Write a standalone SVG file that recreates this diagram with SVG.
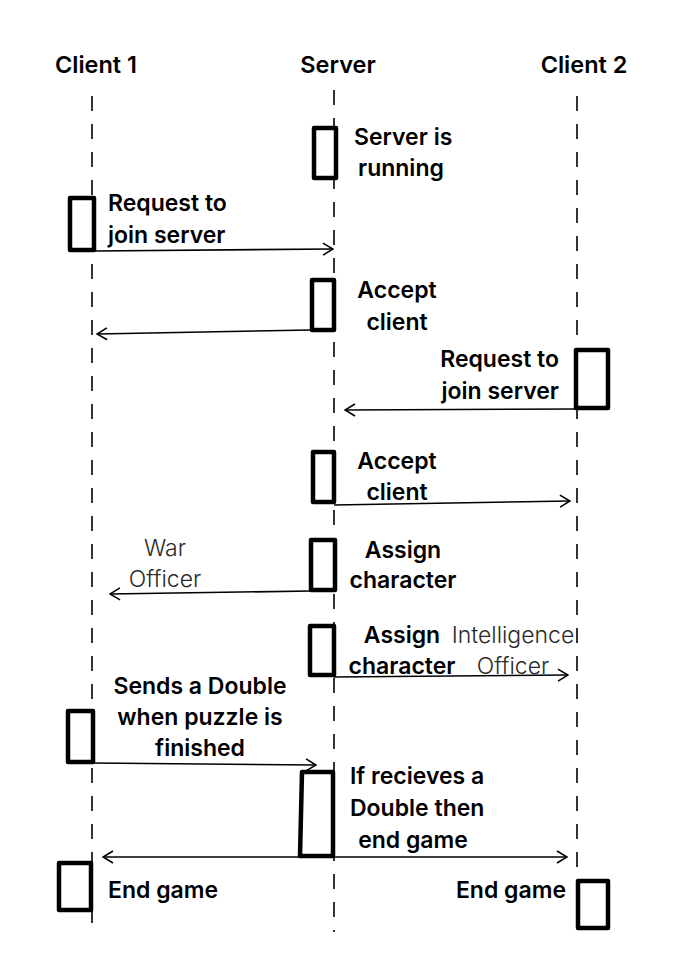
<svg xmlns="http://www.w3.org/2000/svg" width="678" height="960" viewBox="0 0 678 960">
<defs>
<style>
.t{font-family:Inter,"Noto Sans","Liberation Sans",sans-serif;font-weight:600;font-size:23px;fill:#000}
.h{font-family:Inter,"Noto Sans","Liberation Sans",sans-serif;font-weight:600;font-size:23.5px;fill:#000}
.l{font-family:Inter,"Noto Sans","Liberation Sans",sans-serif;font-weight:300;font-size:23px;fill:#2a2a2a}
.life{stroke:#000;stroke-width:1.6;stroke-dasharray:15 13;fill:none}
.box{fill:#fff;stroke:#000;stroke-width:4.5;stroke-linejoin:round}
.msg{stroke:#000;stroke-width:1.6;fill:none}
</style>
<marker id="ah" viewBox="0 0 12 14" refX="11" refY="7" markerWidth="12" markerHeight="14" markerUnits="userSpaceOnUse" orient="auto-start-reverse">
<path d="M1,1 L11,7 L1,13" fill="none" stroke="#000" stroke-width="1.6"/>
</marker>
</defs>
<rect width="678" height="960" fill="#fff"/>
<g id="lifelines">
<text class="h" x="96" y="73" text-anchor="middle">Client 1</text>
<text class="h" x="338" y="73" text-anchor="middle">Server</text>
<text class="h" x="584" y="73" text-anchor="middle">Client 2</text>
<line class="life" x1="92" y1="96" x2="92" y2="936"/>
<line class="life" x1="334" y1="90" x2="334" y2="932"/>
<line class="life" x1="577" y1="96" x2="577" y2="936"/>
</g>
<g id="connectors">
<line class="msg" x1="95" y1="251" x2="333" y2="249" marker-end="url(#ah)"/>
<line class="msg" x1="311" y1="330" x2="97" y2="334" marker-end="url(#ah)"/>
<line class="msg" x1="575" y1="409" x2="345" y2="410" marker-end="url(#ah)"/>
<line class="msg" x1="334" y1="505" x2="570" y2="501" marker-end="url(#ah)"/>
<line class="msg" x1="311" y1="591" x2="110" y2="594" marker-end="url(#ah)"/>
<line class="msg" x1="334" y1="677" x2="568" y2="675" marker-end="url(#ah)"/>
<line class="msg" x1="93" y1="763" x2="316" y2="765" marker-end="url(#ah)"/>
<line class="msg" x1="300" y1="857" x2="103" y2="857" marker-end="url(#ah)"/>
<line class="msg" x1="333" y1="857" x2="567" y2="857" marker-end="url(#ah)"/>
</g>
<g id="server-running">
<rect class="box" x="314" y="128" width="22" height="50"/>
<text class="t" x="354" y="145">Server is</text>
<text class="t" x="358" y="176">running</text>
</g>
<g id="c1-request">
<rect class="box" x="70" y="198" width="24" height="52"/>
<text class="t" x="108" y="211">Request to</text>
<text class="t" x="108" y="243">join server</text>
</g>
<g id="server-accept-1">
<rect class="box" x="312" y="280" width="22" height="50"/>
<text class="t" x="397" y="298" text-anchor="middle">Accept</text>
<text class="t" x="397" y="330" text-anchor="middle">client</text>
</g>
<g id="c2-request">
<rect class="box" x="576" y="350" width="32" height="58"/>
<text class="t" x="559" y="367" text-anchor="end">Request to</text>
<text class="t" x="559" y="399" text-anchor="end">join server</text>
</g>
<g id="server-accept-2">
<rect class="box" x="313" y="452" width="21" height="50"/>
<text class="t" x="397" y="469" text-anchor="middle">Accept</text>
<text class="t" x="397" y="500" text-anchor="middle">client</text>
</g>
<g id="server-assign-1">
<rect class="box" x="311" y="540" width="24" height="50"/>
<text class="t" x="403" y="558" text-anchor="middle">Assign</text>
<text class="t" x="403" y="588" text-anchor="middle">character</text>
<text class="l" x="165" y="556" text-anchor="middle">War</text>
<text class="l" x="165" y="587" text-anchor="middle">Officer</text>
</g>
<g id="server-assign-2">
<rect class="box" x="310" y="626" width="24" height="49"/>
<text class="t" x="402" y="643" text-anchor="middle">Assign</text>
<text class="t" x="402" y="674" text-anchor="middle">character</text>
<text class="l" x="513" y="643" text-anchor="middle">Intelligence</text>
<text class="l" x="513" y="674" text-anchor="middle">Officer</text>
</g>
<g id="c1-double">
<rect class="box" x="68" y="711" width="25" height="51"/>
<text class="t" x="200" y="694" text-anchor="middle">Sends a Double</text>
<text class="t" x="200" y="725" text-anchor="middle">when puzzle is</text>
<text class="t" x="200" y="756" text-anchor="middle">finished</text>
</g>
<g id="server-end">
<path class="box" d="M302,772 L333,772 L333,856 L300,856 Z"/>
<text class="t" x="350" y="784">If recieves a</text>
<text class="t" x="350" y="816">Double then</text>
<text class="t" x="413" y="848" text-anchor="middle">end game</text>
</g>
<g id="c1-end">
<rect class="box" x="59" y="863" width="32" height="47"/>
<text class="t" x="108" y="898">End game</text>
</g>
<g id="c2-end">
<rect class="box" x="578" y="881" width="30" height="47"/>
<text class="t" x="566" y="898" text-anchor="end">End game</text>
</g>
</svg>
